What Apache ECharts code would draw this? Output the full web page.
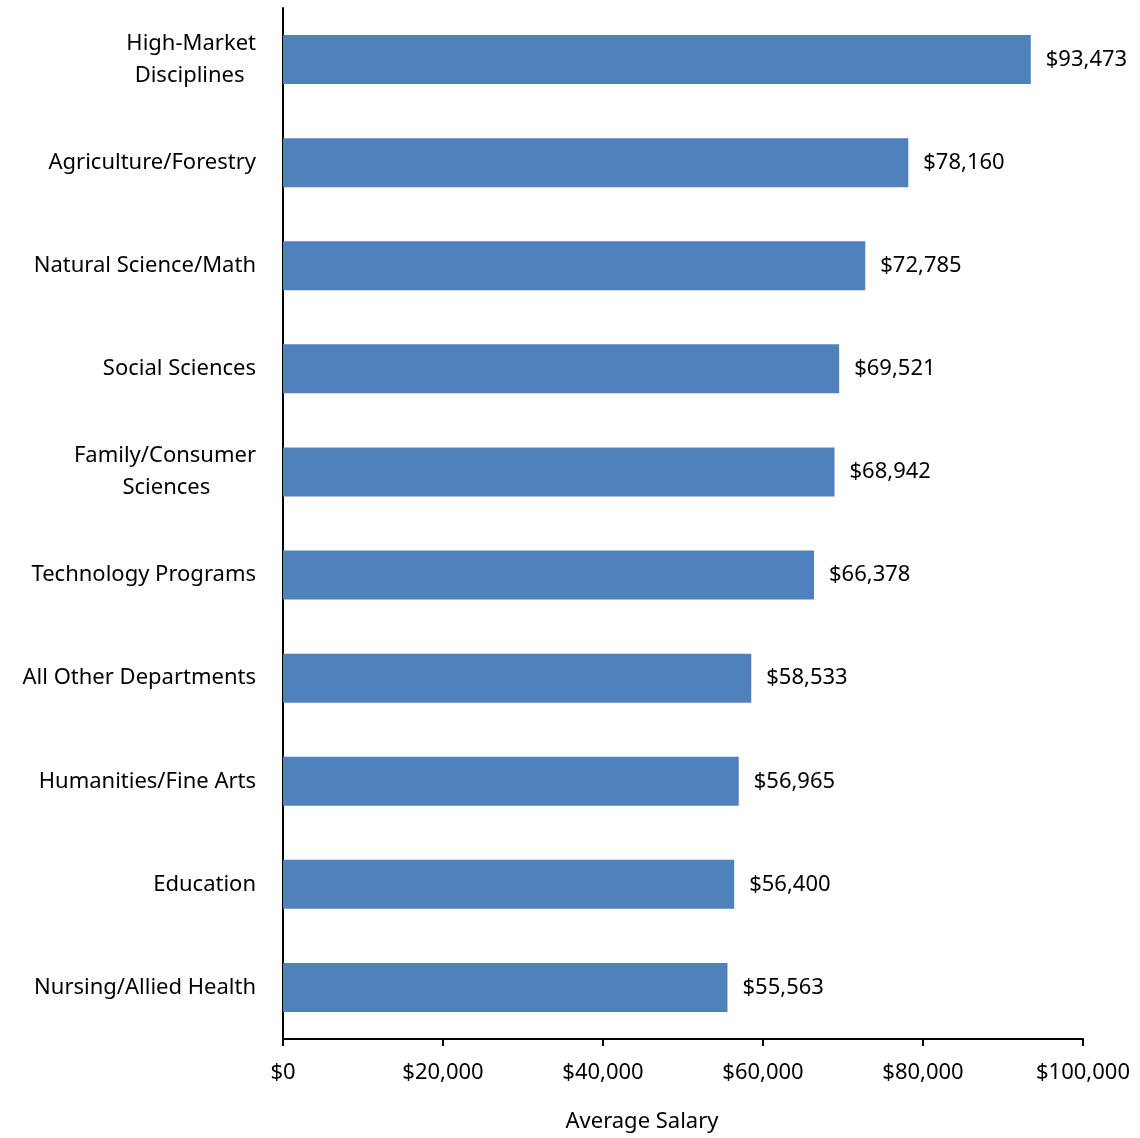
<!DOCTYPE html>
<html>
<head>
<meta charset="utf-8">
<script src="https://cdn.jsdelivr.net/npm/echarts@6/dist/echarts.min.js"></script>
<style>
  html, body { margin: 0; padding: 0; background: #fff; }
  #main { width: 1140px; height: 1138px; }
</style>
</head>
<body>
<div id="main"></div>
<script>
// categories listed bottom to top (category axis starts at the bottom)
var departments = [
    'Nursing/Allied Health',
    'Education',
    'Humanities/Fine Arts',
    'All Other Departments',
    'Technology Programs',
    'Family/Consumer\nSciences        ',
    'Social Sciences',
    'Natural Science/Math',
    'Agriculture/Forestry',
    'High-Market\nDisciplines  '
];
var salaries = [55563, 56400, 56965, 58533, 66378, 68942, 69521, 72785, 78160, 93473];
var xTicks = [0, 20000, 40000, 60000, 80000, 100000];

function money(v) {
    return '$' + String(v).replace(/\B(?=(\d{3})+(?!\d))/g, ',');
}

var font = 'Noto Sans';
var myChart = echarts.init(document.getElementById('main'));

var option = {
    animation: false,
    grid: { left: 283, right: 57, top: 8, bottom: 99, containLabel: false },
    xAxis: {
        type: 'value',
        min: xTicks[0],
        max: xTicks[xTicks.length - 1],
        interval: 20000,
        name: 'Average Salary',
        nameLocation: 'middle',
        nameGap: 72,
        nameTextStyle: { fontFamily: font, fontSize: 22, color: '#000', padding: [0, 82, 0, 0] },
        axisLine: { show: true, lineStyle: { color: '#000', width: 2 } },
        axisTick: { show: true, length: 7, lineStyle: { color: '#000', width: 2 } },
        axisLabel: { fontFamily: font, fontSize: 22, color: '#000', margin: 23, formatter: money },
        splitLine: { show: false }
    },
    yAxis: {
        type: 'category',
        data: departments,
        axisLine: { show: true, lineStyle: { color: '#000', width: 2 } },
        axisTick: { show: false },
        axisLabel: { fontFamily: font, fontSize: 22, color: '#000', margin: 27, lineHeight: 32 }
    },
    series: [{
        type: 'bar',
        data: salaries,
        barWidth: 49,
        itemStyle: { color: '#4F81BD' },
        label: {
            show: true,
            position: 'right',
            distance: 15,
            fontFamily: font,
            fontSize: 22,
            color: '#000',
            formatter: function (p) { return money(p.value); }
        }
    }]
};

myChart.setOption(option);
</script>
</body>
</html>
